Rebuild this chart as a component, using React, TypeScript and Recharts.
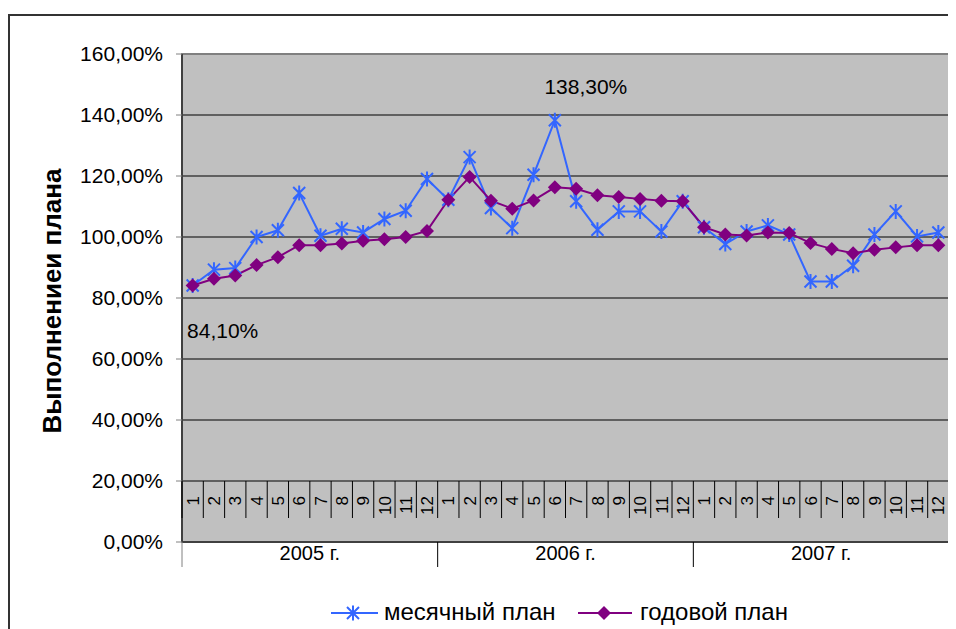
import { LineChart, Line, XAxis, YAxis, CartesianGrid, ReferenceArea, LabelList } from "recharts";

const years = ["2005 г.", "2006 г.", "2007 г."];
const months = ["1", "2", "3", "4", "5", "6", "7", "8", "9", "10", "11", "12"];

// monthly plan fulfilment, %
const monthly2005 = [84.1, 89.3, 89.8, 100.0, 102.2, 114.4, 100.4, 102.7, 101.5, 105.9, 108.6, 119.0];
const monthly2006 = [112.2, 126.2, 109.5, 102.9, 120.4, 138.3, 111.7, 102.4, 108.4, 108.4, 101.8, 111.7];
const monthly2007 = [103.2, 97.7, 101.8, 103.8, 100.8, 85.4, 85.4, 90.6, 100.8, 108.4, 100.2, 101.5];

// cumulative (yearly) plan fulfilment, %
const yearly2005 = [84.1, 86.3, 87.4, 90.8, 93.4, 97.3, 97.3, 97.9, 98.8, 99.3, 100.0, 102.0];
const yearly2006 = [112.2, 119.7, 111.9, 109.3, 112.0, 116.3, 115.8, 113.7, 113.1, 112.5, 111.9, 111.7];
const yearly2007 = [103.2, 100.8, 100.5, 101.5, 101.3, 98.0, 96.1, 94.7, 95.8, 96.6, 97.3, 97.3];

const yTicks = [0, 20, 40, 60, 80, 100, 120, 140, 160];
const gridTicks = [20, 40, 60, 80, 100, 120, 140];

const monthlyPlan = [...monthly2005, ...monthly2006, ...monthly2007];
const yearlyPlan = [...yearly2005, ...yearly2006, ...yearly2007];

const data = years.flatMap((year, yi) =>
  months.map((month, mi) => ({
    key: `${year}-${month}`,
    year,
    month,
    monthly: monthlyPlan[yi * 12 + mi],
    yearly: yearlyPlan[yi * 12 + mi],
  }))
);

const FONT = "'Liberation Sans', Arial, sans-serif";
const BLUE = "#3366FF";
const PURPLE = "#800080";

const W = 948;
const H = 621;
const PLOT_LEFT = 174;
const PLOT_RIGHT = 7;
const PLOT_W = W - PLOT_LEFT - PLOT_RIGHT;
const HALF_BAND = PLOT_W / data.length / 2;

const fmtPct = (v: number) => `${v.toFixed(2).replace(".", ",")}%`;

// value callouts next to the extreme points of the monthly series
const callouts: Record<number, [number, number]> = {
  0: [30, 45],
  17: [31, -34],
};

function StarDot(props: any) {
  const { cx, cy, index } = props;
  if (cx == null || cy == null) return null;
  const r = 7.5;
  const d = 6;
  return (
    <path
      key={`star-${index}`}
      d={`M${cx},${cy - r}V${cy + r}M${cx - d},${cy - d}L${cx + d},${cy + d}M${cx - d},${cy + d}L${cx + d},${cy - d}`}
      stroke={BLUE}
      strokeWidth={2}
      fill="none"
    />
  );
}

function DiamondDot(props: any) {
  const { cx, cy, index } = props;
  if (cx == null || cy == null) return null;
  const r = 7;
  return (
    <path
      key={`dia-${index}`}
      d={`M${cx},${cy - r}L${cx + r},${cy}L${cx},${cy + r}L${cx - r},${cy}Z`}
      fill={PURPLE}
    />
  );
}

function Callout(props: any) {
  const { x, y, value, index } = props;
  const off = callouts[index];
  if (!off) return null;
  return (
    <text
      x={x + off[0]}
      y={y + off[1]}
      textAnchor="middle"
      dominantBaseline="central"
      fontSize={21}
      fontFamily={FONT}
      fill="#000"
    >
      {fmtPct(value)}
    </text>
  );
}

// two-level category axis: month numbers inside the plot, years below it
function MonthYearTick(props: any) {
  const { x, y, payload } = props;
  const i: number = payload.index;
  const row = data[i];
  if (!row) return null;
  const left = x - HALF_BAND;
  const right = x + HALF_BAND;
  const last = i === data.length - 1;
  return (
    <g>
      <line x1={left} x2={left} y1={y - 61} y2={y - 24} stroke="#000" strokeWidth={1} />
      {last && <line x1={right} x2={right} y1={y - 61} y2={y - 24} stroke="#000" strokeWidth={1} />}
      <g transform={`translate(${x},${y - 46}) rotate(-90)`}>
        <text x={0} y={0} dy="0.36em" textAnchor="end" fontSize={17} fontFamily={FONT} fill="#000">
          {row.month}
        </text>
      </g>
      {i % 12 === 0 && (
        <line x1={left} x2={left} y1={y} y2={y + 25} stroke={i === 0 ? "#808080" : "#000"} strokeWidth={1} />
      )}
      {last && <line x1={right} x2={right} y1={y} y2={y + 25} stroke="#000" strokeWidth={1} />}
      {i % 12 === 5 && (
        <text x={right} y={y + 18} textAnchor="middle" fontSize={20} fontFamily={FONT} fill="#000">
          {row.year}
        </text>
      )}
    </g>
  );
}

function LegendBox() {
  return (
    <svg width={W} height={40} style={{ position: "absolute", left: 0, top: 585 }}>
      <g fontFamily={FONT} fontSize={24} fill="#000">
        <line x1={323} x2={370} y1={20} y2={20} stroke={BLUE} strokeWidth={2} />
        <StarDot cx={345} cy={20} index={-1} />
        <text x={376} y={27}>месячный план</text>
        <line x1={570} x2={624} y1={20} y2={20} stroke={PURPLE} strokeWidth={2} />
        <DiamondDot cx={596} cy={20} index={-1} />
        <text x={632} y={27}>годовой план</text>
      </g>
    </svg>
  );
}

export default function App() {
  return (
    <div style={{ position: "relative", width: W, height: H, overflow: "hidden", fontFamily: FONT }}>
      {/* outer chart frame, only its top and left edges fall on the page */}
      <div
        style={{
          position: "absolute",
          left: 0,
          top: 6,
          right: 0,
          bottom: 0,
          borderTop: "2px solid #333",
          borderLeft: "2px solid #333",
        }}
      />
      <LineChart
        width={W}
        height={H}
        data={data}
        margin={{ top: 46, right: PLOT_RIGHT, bottom: 47, left: 0 }}
        style={{ position: "absolute", left: 0, top: 0 }}
      >
        <CartesianGrid
          vertical={false}
          horizontalValues={gridTicks}
          stroke="#000"
          strokeWidth={1}
          fill="#C0C0C0"
          fillOpacity={1}
        />
        <ReferenceArea y1={0} y2={160} fill="none" stroke="#808080" strokeWidth={2} ifOverflow="visible" />
        <XAxis
          dataKey="key"
          scale="band"
          interval={0}
          height={40}
          tickSize={0}
          tickMargin={0}
          tickLine={false}
          axisLine={{ stroke: "#000", strokeWidth: 1 }}
          tick={<MonthYearTick />}
        />
        <YAxis
          width={PLOT_LEFT}
          domain={[0, 160]}
          ticks={yTicks}
          interval={0}
          tickFormatter={fmtPct}
          tickSize={6}
          tickMargin={13}
          tickLine={{ stroke: "#808080" }}
          axisLine={{ stroke: "#404040", strokeWidth: 2 }}
          tick={{ fill: "#000", fontSize: 21, fontFamily: FONT }}
          label={{
            value: "Выполнениеи плана",
            angle: -90,
            position: "center",
            dx: -43,
            dy: 3,
            style: { fontSize: 26, fontWeight: "bold", fill: "#000", fontFamily: FONT },
          }}
        />
        <Line
          dataKey="monthly"
          name="месячный план"
          stroke={BLUE}
          strokeWidth={2}
          dot={StarDot}
          activeDot={false}
          isAnimationActive={false}
        >
          <LabelList dataKey="monthly" content={Callout} />
        </Line>
        <Line
          dataKey="yearly"
          name="годовой план"
          stroke={PURPLE}
          strokeWidth={2}
          dot={DiamondDot}
          activeDot={false}
          isAnimationActive={false}
        />
      </LineChart>
      <LegendBox />
    </div>
  );
}
